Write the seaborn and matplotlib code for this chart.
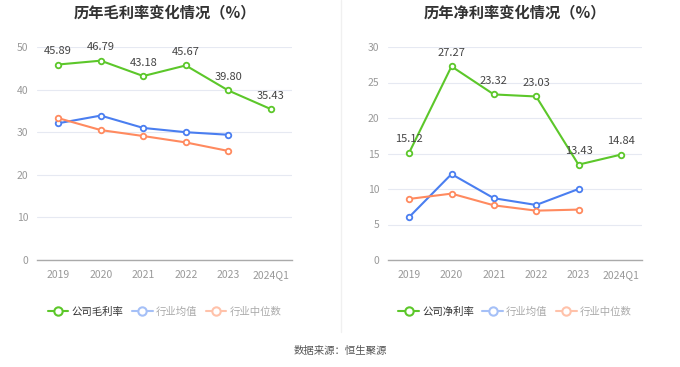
import matplotlib
matplotlib.use("Agg")
import matplotlib.pyplot as plt
from matplotlib.lines import Line2D
import seaborn as sns
import pandas as pd

sns.set_theme(style="white")
plt.rcParams['font.family'] = ['Noto Sans CJK SC', 'DejaVu Sans']

categories = ["2019", "2020", "2021", "2022", "2023", "2024Q1"]

gross_company = [45.89, 46.79, 43.18, 45.67, 39.80, 35.43]
gross_ind_avg = [32.1, 33.9, 31.0, 30.0, 29.4]
gross_ind_med = [33.3, 30.5, 29.1, 27.6, 25.6]

net_company = [15.12, 27.27, 23.32, 23.03, 13.43, 14.84]
net_ind_avg = [6.05, 12.1, 8.7, 7.75, 10.0]
net_ind_med = [8.6, 9.35, 7.7, 6.95, 7.1]

titles = ["历年毛利率变化情况（%）", "历年净利率变化情况（%）"]
legend_labels = [["公司毛利率", "行业均值", "行业中位数"],
                 ["公司净利率", "行业均值", "行业中位数"]]
source_text = "数据来源：恒生聚源"

GREEN = "#5cc72a"
BLUE = "#4a7ef0"
ORANGE = "#ff8a5f"
BLUE_L = "#a5c0f7"
ORANGE_L = "#ffc2aa"

fig = plt.figure(figsize=(6.8, 3.67), dpi=100)

ax_specs = [
    (37 / 680, 255 / 680, gross_company, gross_ind_avg, gross_ind_med, 50, 10),
    (388 / 680, 254 / 680, net_company, net_ind_avg, net_ind_med, 30, 5),
]
bottom = 1 - 260 / 367
height = (260 - 47) / 367

for i, (left, width, comp, avg, med, ymax, step) in enumerate(ax_specs):
    ax = fig.add_axes([left, bottom, width, height])
    series = [(comp, GREEN), (avg, BLUE), (med, ORANGE)]
    for vals, col in series:
        df = pd.DataFrame({"x": list(range(len(vals))), "y": vals})
        sns.lineplot(data=df, x="x", y="y", ax=ax, color=col, linewidth=1.5,
                     marker="o", markersize=4, markerfacecolor="white",
                     markeredgecolor=col, markeredgewidth=1.3, zorder=3)
    for xi, v in enumerate(comp):
        ax.annotate(f"{v:.2f}", (xi, v), xytext=(0, 6), textcoords="offset points",
                    ha="center", va="bottom", fontsize=8, color="#444444", zorder=4)
    ax.set_xlim(-0.5, len(categories) - 0.5)
    ax.set_ylim(0, ymax)
    ax.set_yticks(list(range(0, ymax + 1, step)))
    ax.set_xticks(range(len(categories)))
    ax.set_xticklabels(categories)
    ax.set_xlabel("")
    ax.set_ylabel("")
    ax.tick_params(axis="both", labelsize=7.5, colors="#999999", length=0, pad=6)
    ax.tick_params(axis="x", length=4, color="#aaaaaa", width=0.8, pad=3, labelcolor="#999999")
    ax.tick_params(axis="y", labelcolor="#999999")
    ax.yaxis.grid(True, color="#e6e9f2", linewidth=0.8)
    ax.set_axisbelow(True)
    for s in ["top", "right", "left"]:
        ax.spines[s].set_visible(False)
    ax.spines["bottom"].set_color("#aaaaaa")
    ax.spines["bottom"].set_linewidth(1.0)

    cx = left + width / 2
    fig.text(cx, 1 - 12 / 367, titles[i], ha="center", va="center",
             fontsize=11, fontweight="bold", color="#333333")

    handles = [
        Line2D([0], [0], color=GREEN, marker="o", markersize=6, markerfacecolor="white",
               markeredgecolor=GREEN, markeredgewidth=1.5, linewidth=1.5),
        Line2D([0], [0], color=BLUE_L, marker="o", markersize=6, markerfacecolor="white",
               markeredgecolor=BLUE_L, markeredgewidth=1.5, linewidth=1.5),
        Line2D([0], [0], color=ORANGE_L, marker="o", markersize=6, markerfacecolor="white",
               markeredgecolor=ORANGE_L, markeredgewidth=1.5, linewidth=1.5),
    ]
    leg = fig.legend(handles, legend_labels[i], loc="center",
                     bbox_to_anchor=(cx, 1 - 312 / 367), ncol=3, frameon=False,
                     fontsize=7.5, handlelength=2.0, handletextpad=0.3,
                     columnspacing=0.8)
    for j, t in enumerate(leg.get_texts()):
        t.set_color("#333333" if j == 0 else "#aaaaaa")

fig.add_artist(Line2D([341 / 680, 341 / 680], [1 - 332 / 367, 1.0],
                      color="#f0f0f0", linewidth=1.0))
fig.text(0.5, 1 - 351 / 367, source_text, ha="center", va="center",
         fontsize=7.5, color="#555555")

fig.savefig("out.png", dpi=100)
